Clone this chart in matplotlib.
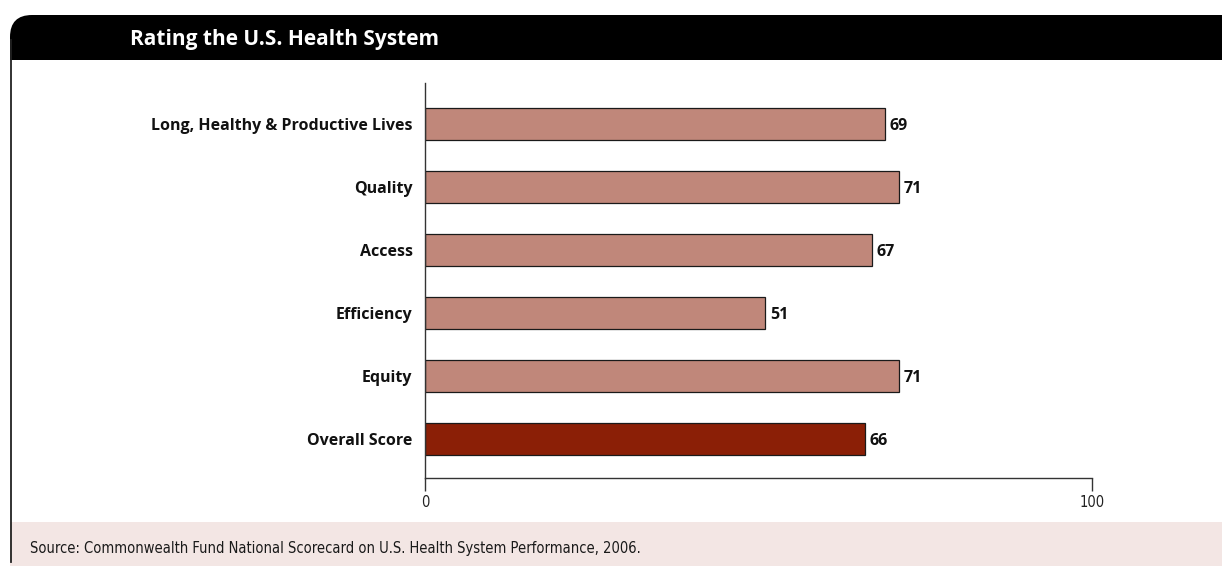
import matplotlib.pyplot as plt
from matplotlib.patches import FancyBboxPatch, Rectangle
from matplotlib.lines import Line2D

categories = ["Long, Healthy & Productive Lives", "Quality", "Access",
              "Efficiency", "Equity", "Overall Score"]
scores = [69, 71, 67, 51, 71, 66]
bar_colors = ["#c0877a", "#c0877a", "#c0877a", "#c0877a", "#c0877a", "#8b1f06"]
title = "Rating the U.S. Health System"
source = "Source: Commonwealth Fund National Scorecard on U.S. Health System Performance, 2006."

W, H = 1222, 567
fig = plt.figure(figsize=(W / 100, H / 100), dpi=100)

def fx(px):
    return px / W

def fy(py):
    return 1 - py / H

# black header: rounded box, lower part masked so only the top-left corner is round
fig.patches.append(FancyBboxPatch((fx(10), fy(80)), fx(1260 - 10), fy(15) - fy(80),
                                  boxstyle="round,pad=0,rounding_size=0.018",
                                  mutation_aspect=W / H,
                                  transform=fig.transFigure, facecolor="black",
                                  edgecolor="none", zorder=1))
fig.patches.append(Rectangle((0, fy(81)), 1, fy(60) - fy(81),
                             transform=fig.transFigure, facecolor="white",
                             edgecolor="none", zorder=1.5))
# pink source band
fig.patches.append(Rectangle((fx(10), fy(566)), fx(1260 - 10), fy(522) - fy(566),
                             transform=fig.transFigure, facecolor="#f3e6e4",
                             edgecolor="none", zorder=1))
fig.lines.append(Line2D([fx(10.5), fx(10.5)], [fy(40), fy(562)],
                        transform=fig.transFigure, color="#222222", lw=1.3, zorder=2))

fig.text(fx(130), fy(39), title, color="white", fontsize=15, fontweight="bold",
         family="Open Sans", va="center", ha="left", zorder=3)
fig.text(fx(30), fy(548), source, color="#1a1a1a", fontsize=10.5,
         family="DejaVu Sans", fontstretch="condensed", va="center", ha="left")

ax = fig.add_axes([fx(425), fy(478), fx(1092) - fx(425), fy(83) - fy(478)])
y = list(range(len(categories)))
bars = ax.barh(y, scores, height=0.51, color=bar_colors, edgecolor="#1a1a1a",
               linewidth=0.9)
for yi, v in zip(y, scores):
    ax.text(v + 0.7, yi, str(v), va="center_baseline", ha="left", fontsize=11.5,
            fontweight="bold", family="Open Sans", color="#111111")

ax.set_xlim(0, 100)
ax.set_ylim(5.62, -0.65)
ax.set_yticks(y)
ax.set_yticklabels(categories, fontsize=11.5, fontweight="bold", family="Open Sans",
                   color="#111111")
ax.tick_params(axis="y", length=0, pad=9)
ax.set_xticks([0, 100])
ax.set_xticklabels(["0", "100"], fontsize=10.5, family="DejaVu Sans",
                   fontstretch="condensed", color="#222222")
ax.tick_params(axis="x", length=9, width=1, pad=3, color="#333333")
for s in ["top", "right"]:
    ax.spines[s].set_visible(False)
for s in ["left", "bottom"]:
    ax.spines[s].set_color("#333333")
    ax.spines[s].set_linewidth(1)
ax.patch.set_alpha(0)

fig.savefig("out.png", dpi=100)
